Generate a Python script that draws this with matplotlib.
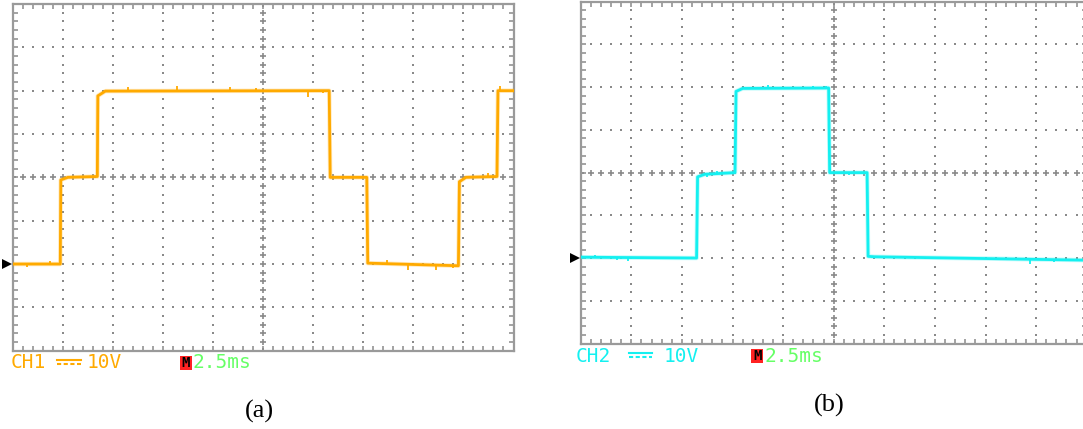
import numpy as np
import matplotlib
matplotlib.use("Agg")
import matplotlib.pyplot as plt
from matplotlib.patches import Rectangle
from matplotlib.lines import Line2D

W, H, DPI = 1083, 429, 100

# ---- Channel 1: three-level output (screen divisions) ----
ch1_t = [0.00, 0.95, 0.96, 1.10, 1.69, 1.70, 1.85, 6.32, 6.34, 7.07, 7.09, 8.90, 8.92, 9.05, 9.67, 9.69, 10.0]
ch1_v = [-2.00, -2.00, -0.06, 0.00, 0.02, 1.88, 1.99, 2.00, 0.00, 0.00, -1.98, -2.04, -0.10, 0.00, 0.02, 2.00, 2.00]
ch1_glitch_t = [0.28, 0.75, 2.30, 3.28, 4.33, 4.85, 5.90, 6.20, 7.48, 7.90, 8.45, 8.80, 9.50, 9.73]
ch1_glitch_a = [-0.07, 0.07, 0.10, 0.12, 0.08, 0.06, -0.15, -0.06, 0.08, -0.12, -0.12, -0.05, 0.09, 0.10]

# ---- Channel 2: single pulse pair ----
ch2_t = [0.00, 2.29, 2.31, 2.45, 3.05, 3.07, 3.20, 4.90, 4.92, 5.66, 5.68, 5.80, 10.0]
ch2_v = [-1.98, -2.00, -0.10, -0.04, 0.00, 1.90, 1.97, 1.98, 0.00, 0.00, -1.96, -1.97, -2.05]
ch2_glitch_t = [0.28, 0.72, 0.94, 2.50, 2.69, 3.70, 4.60, 4.85, 5.30, 8.88, 9.35]
ch2_glitch_a = [0.06, -0.07, -0.07, -0.07, 0.07, 0.08, 0.04, 0.05, -0.06, -0.10, -0.05]

ORANGE = "#FFAA00"
CYAN = "#14F0F0"
GREEN = "#66FF66"
RED = "#FF2222"
GRID = "#8a8a8a"
BORDER = "#9a9a9a"

fig = plt.figure(figsize=(W / DPI, H / DPI), dpi=DPI)
fig.patch.set_facecolor("white")


def px_axes(x0, y0, x1, y1):
    """Create axes from pixel box (top-left origin)."""
    return fig.add_axes([x0 / W, 1 - y1 / H, (x1 - x0) / W, (y1 - y0) / H])


def draw_screen(ax):
    ax.set_xlim(0, 10)
    ax.set_ylim(-4, 4)
    ax.set_facecolor("white")
    for s in ax.spines.values():
        s.set_color(BORDER)
        s.set_linewidth(1.6)
    ax.set_xticks(np.arange(0, 10.001, 0.2))
    ax.set_yticks(np.arange(-4, 4.001, 0.2))
    ax.tick_params(direction="in", length=3.5, width=1.1, colors=GRID,
                   top=True, right=True, labelbottom=False, labelleft=False)
    fine_y = np.arange(-4, 4.001, 0.2)
    fine_x = np.arange(0, 10.001, 0.2)
    # dotted graticule
    for gx in [1, 2, 3, 4, 6, 7, 8, 9]:
        ax.plot(np.full_like(fine_y, gx), fine_y, ls="none", marker="s",
                ms=1.6, mew=0, color=GRID, zorder=1)
    for gy in [-3, -2, -1, 1, 2, 3]:
        ax.plot(fine_x, np.full_like(fine_x, gy), ls="none", marker="s",
                ms=1.6, mew=0, color=GRID, zorder=1)
    # centre cross with minor marks
    ax.plot(np.full_like(fine_y, 5), fine_y, ls="none", marker="+",
            ms=5, mew=1.2, color=GRID, zorder=1)
    ax.plot(fine_x, np.zeros_like(fine_x), ls="none", marker="+",
            ms=5, mew=1.2, color=GRID, zorder=1)


def draw_trace(ax, t, v, gt, ga, color):
    ax.plot(t, v, color=color, lw=3.2, alpha=0.25, solid_joinstyle="round", zorder=3)
    ax.plot(t, v, color=color, lw=2.0, solid_joinstyle="round", zorder=4)
    base = np.interp(gt, t, v)
    ax.vlines(gt, base, base + np.array(ga), color=color, lw=1.3, zorder=4)
    # ground reference marker
    ax.plot([-0.12], [-2.0], marker=">", ms=7.5, color="black", mew=0,
            clip_on=False, zorder=5)


def fx(x):
    return x / W


def fy(y):
    return 1 - y / H


def status_bar(x_ch, y_c, label, color, sym_x0, sym_x1, x_v, box_x0, box_x1, x_ms):
    mono = "DejaVu Sans Mono"
    fs = 14
    fig.text(fx(x_ch), fy(y_c), label, color=color, fontsize=fs,
             family=mono, va="center", ha="left")
    # DC coupling symbol
    fig.add_artist(Line2D([fx(sym_x0), fx(sym_x1)], [fy(y_c - 3.5), fy(y_c - 3.5)],
                          color=color, lw=1.5))
    fig.add_artist(Line2D([fx(sym_x0), fx(sym_x1)], [fy(y_c + 1), fy(y_c + 1)],
                          color=color, lw=1.5, ls=(0, (2.0, 1.2))))
    fig.text(fx(x_v), fy(y_c), "10V", color=color, fontsize=fs,
             family=mono, va="center", ha="left")
    fig.add_artist(Rectangle((fx(box_x0), fy(y_c + 7)), fx(box_x1 - box_x0), 14 / H,
                             facecolor=RED, edgecolor="none"))
    fig.text(fx((box_x0 + box_x1) / 2), fy(y_c), "M", color="black", fontsize=10,
             family=mono, weight="bold", va="center", ha="center")
    fig.text(fx(x_ms), fy(y_c), "2.5ms", color=GREEN, fontsize=fs,
             family=mono, va="center", ha="left")


# ---- Panel (a) ----
ax_a = px_axes(12.7, 4.0, 513.5, 350.7)
draw_screen(ax_a)
draw_trace(ax_a, ch1_t, ch1_v, ch1_glitch_t, ch1_glitch_a, ORANGE)
status_bar(11, 363, "CH1", ORANGE, 56.7, 81, 87, 180, 191.7, 193)

# ---- Panel (b) ----
ax_b = px_axes(580.7, 1.7, 1086.7, 343.5)
draw_screen(ax_b)
draw_trace(ax_b, ch2_t, ch2_v, ch2_glitch_t, ch2_glitch_a, CYAN)
status_bar(576, 356, "CH2", CYAN, 629, 652, 664, 751, 763.3, 765)

fig.text(fx(259), fy(411), "(a)", fontsize=19, family="Liberation Serif",
         ha="center", va="center")
fig.text(fx(829), fy(405), "(b)", fontsize=19, family="Liberation Serif",
         ha="center", va="center")

fig.savefig("out.png", dpi=DPI, facecolor="white")
